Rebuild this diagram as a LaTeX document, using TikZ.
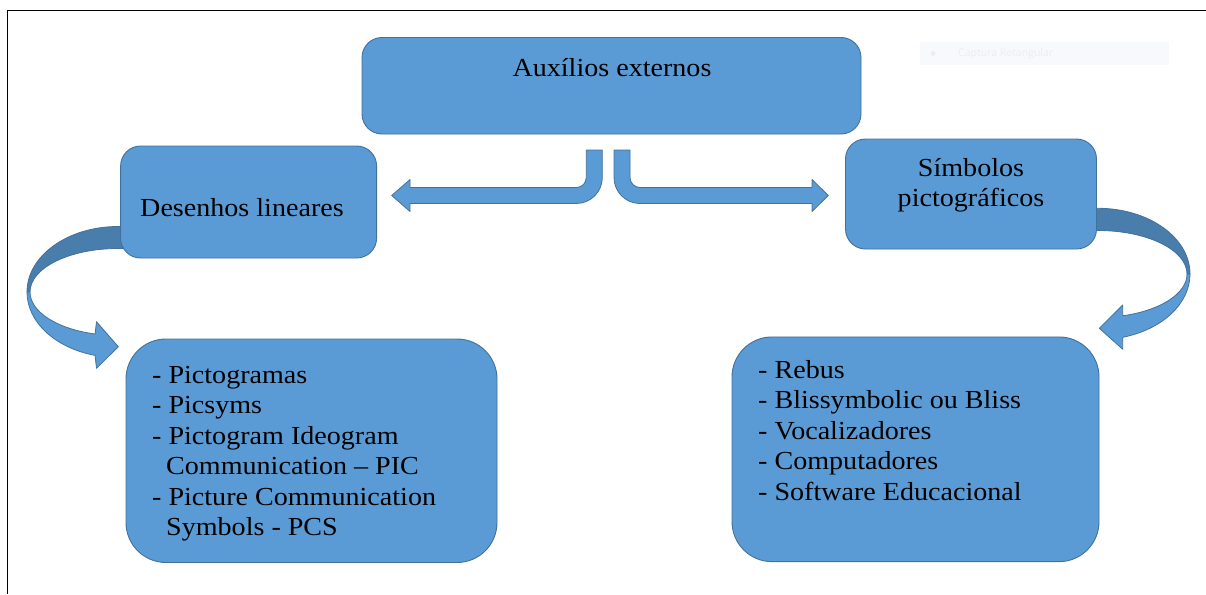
\documentclass[tikz,border=0pt]{standalone}
\usepackage{fontspec}
\setmainfont[FakeStretch=1.08]{Liberation Serif}
\newfontfamily\uifont{Open Sans}
\definecolor{boxblue}{HTML}{5B9BD5}
\definecolor{boxedge}{HTML}{41719C}
\definecolor{ribbon}{HTML}{497DAC}
\definecolor{faintbg}{HTML}{F7F9FC}
\definecolor{fainttext}{HTML}{E9EEF5}
\begin{document}
\begin{tikzpicture}[x=1pt,y=-1pt,
  box/.style={draw=boxedge, fill=boxblue, line width=0.9pt, rounded corners=20pt, inner sep=0pt},
  bigbox/.style={box, rounded corners=40pt},
  shapefill/.style={draw=boxedge, fill=boxblue, line width=0.8pt, line join=round},
  backfill/.style={draw=boxedge, fill=ribbon, line width=0.8pt, line join=round},
  txt/.style={font=\fontsize{26}{30.4}\selectfont, inner sep=0pt, text=black}]
\useasboundingbox (0,0) rectangle (1206,594);
% frame
\draw[line width=1pt] (7.5,594) -- (7.5,11) -- (1206,11);
% faint screen artifact
\fill[faintbg] (920,42) rectangle (1169,65);
\fill[fainttext] (933,53.5) circle (2.5);
\node[anchor=west, inner sep=0pt, text=fainttext, font=\uifont\fontsize{10.5}{12}\selectfont] (artifact) at (958,53.5) {Captura Retangular};

% curved ribbon arrows (drawn before boxes)
\coordinate (lc) at (118,292);
\path[backfill] (126,226.5) -- (118,226.5) arc[start angle=270,end angle=180,x radius=91,y radius=65.5]
  -- (30,292) arc[start angle=180,end angle=270,x radius=88,y radius=43.5] -- (126,248.5) -- cycle;
\path[shapefill] (27,292) arc[start angle=180,end angle=104.6,x radius=91,y radius=65.5]
  -- (96.5,368.3) -- (118.3,346.7) -- (96.5,321.7) -- (95.1,334)
  arc[start angle=105.1,end angle=180,x radius=88,y radius=43.5] -- cycle;

\path[backfill] (1090,208.3) -- (1098,208.3) arc[start angle=-90,end angle=0,x radius=92,y radius=65.7]
  -- (1187,274) arc[start angle=0,end angle=-90,x radius=89,y radius=43.5] -- (1090,230.5) -- cycle;
\path[shapefill] (1190,274) arc[start angle=0,end angle=74.4,x radius=92,y radius=65.7]
  -- (1122.7,349.3) -- (1099.3,328.3) -- (1122.7,305) -- (1122.7,315.8)
  arc[start angle=73.9,end angle=0,x radius=89,y radius=43.5] -- cycle;

% boxes
\node[box, minimum width=499pt, minimum height=96.5pt] (top) at (611.5,85.75) {};
\node[box, minimum width=256pt, minimum height=112pt] (des) at (248.6,202) {};
\node[box, minimum width=251pt, minimum height=110pt] (sim) at (971,194) {};
\node[bigbox, minimum width=371pt, minimum height=223.5pt] (lst1) at (311.5,450.75) {};
\node[bigbox, minimum width=367pt, minimum height=224.7pt] (lst2) at (915.5,449.3) {};

% bent arrows from top box
\path[shapefill] (602.3,150) -- (602.3,177.5) arc[start angle=0,end angle=90,radius=26]
  -- (410,203.5) -- (410,211.5) -- (391.7,195.5) -- (410,179.5) -- (410,187.5) -- (576.3,187.5)
  arc[start angle=90,end angle=0,radius=10] -- (586.3,150) -- cycle;
\path[shapefill] (614,150) -- (614,177.5) arc[start angle=180,end angle=90,radius=26]
  -- (812,203.5) -- (812,211.5) -- (828.3,195.5) -- (812,179.5) -- (812,187.5) -- (640,187.5)
  arc[start angle=90,end angle=180,radius=10] -- (630,177.5) -- (630,150) -- cycle;

% texts
\node[txt, anchor=base] (ttop) at (612,76) {Auxílios externos};
\node[txt, anchor=base] (tdes) at (242,216) {Desenhos lineares};
\node[txt, anchor=base] (tsim1) at (971,176) {Símbolos};
\node[txt, anchor=base] (tsim2) at (971,206.5) {pictográficos};

\node[txt, anchor=base west] (a1) at (152,383) {- Pictogramas};
\node[txt, anchor=base west] (a2) at (152,413.5) {- Picsyms};
\node[txt, anchor=base west] (a3) at (152,444) {- Pictogram Ideogram};
\node[txt, anchor=base west] (a4) at (166,474.5) {Communication – PIC};
\node[txt, anchor=base west] (a5) at (152,505) {- Picture Communication};
\node[txt, anchor=base west] (a6) at (166,535.5) {Symbols - PCS};

\node[txt, anchor=base west] (b1) at (758,378) {- Rebus};
\node[txt, anchor=base west] (b2) at (758,408.5) {- Blissymbolic ou Bliss};
\node[txt, anchor=base west] (b3) at (758,439) {- Vocalizadores};
\node[txt, anchor=base west] (b4) at (758,469.5) {- Computadores};
\node[txt, anchor=base west] (b5) at (758,500) {- Software Educacional};
\end{tikzpicture}
\end{document}
